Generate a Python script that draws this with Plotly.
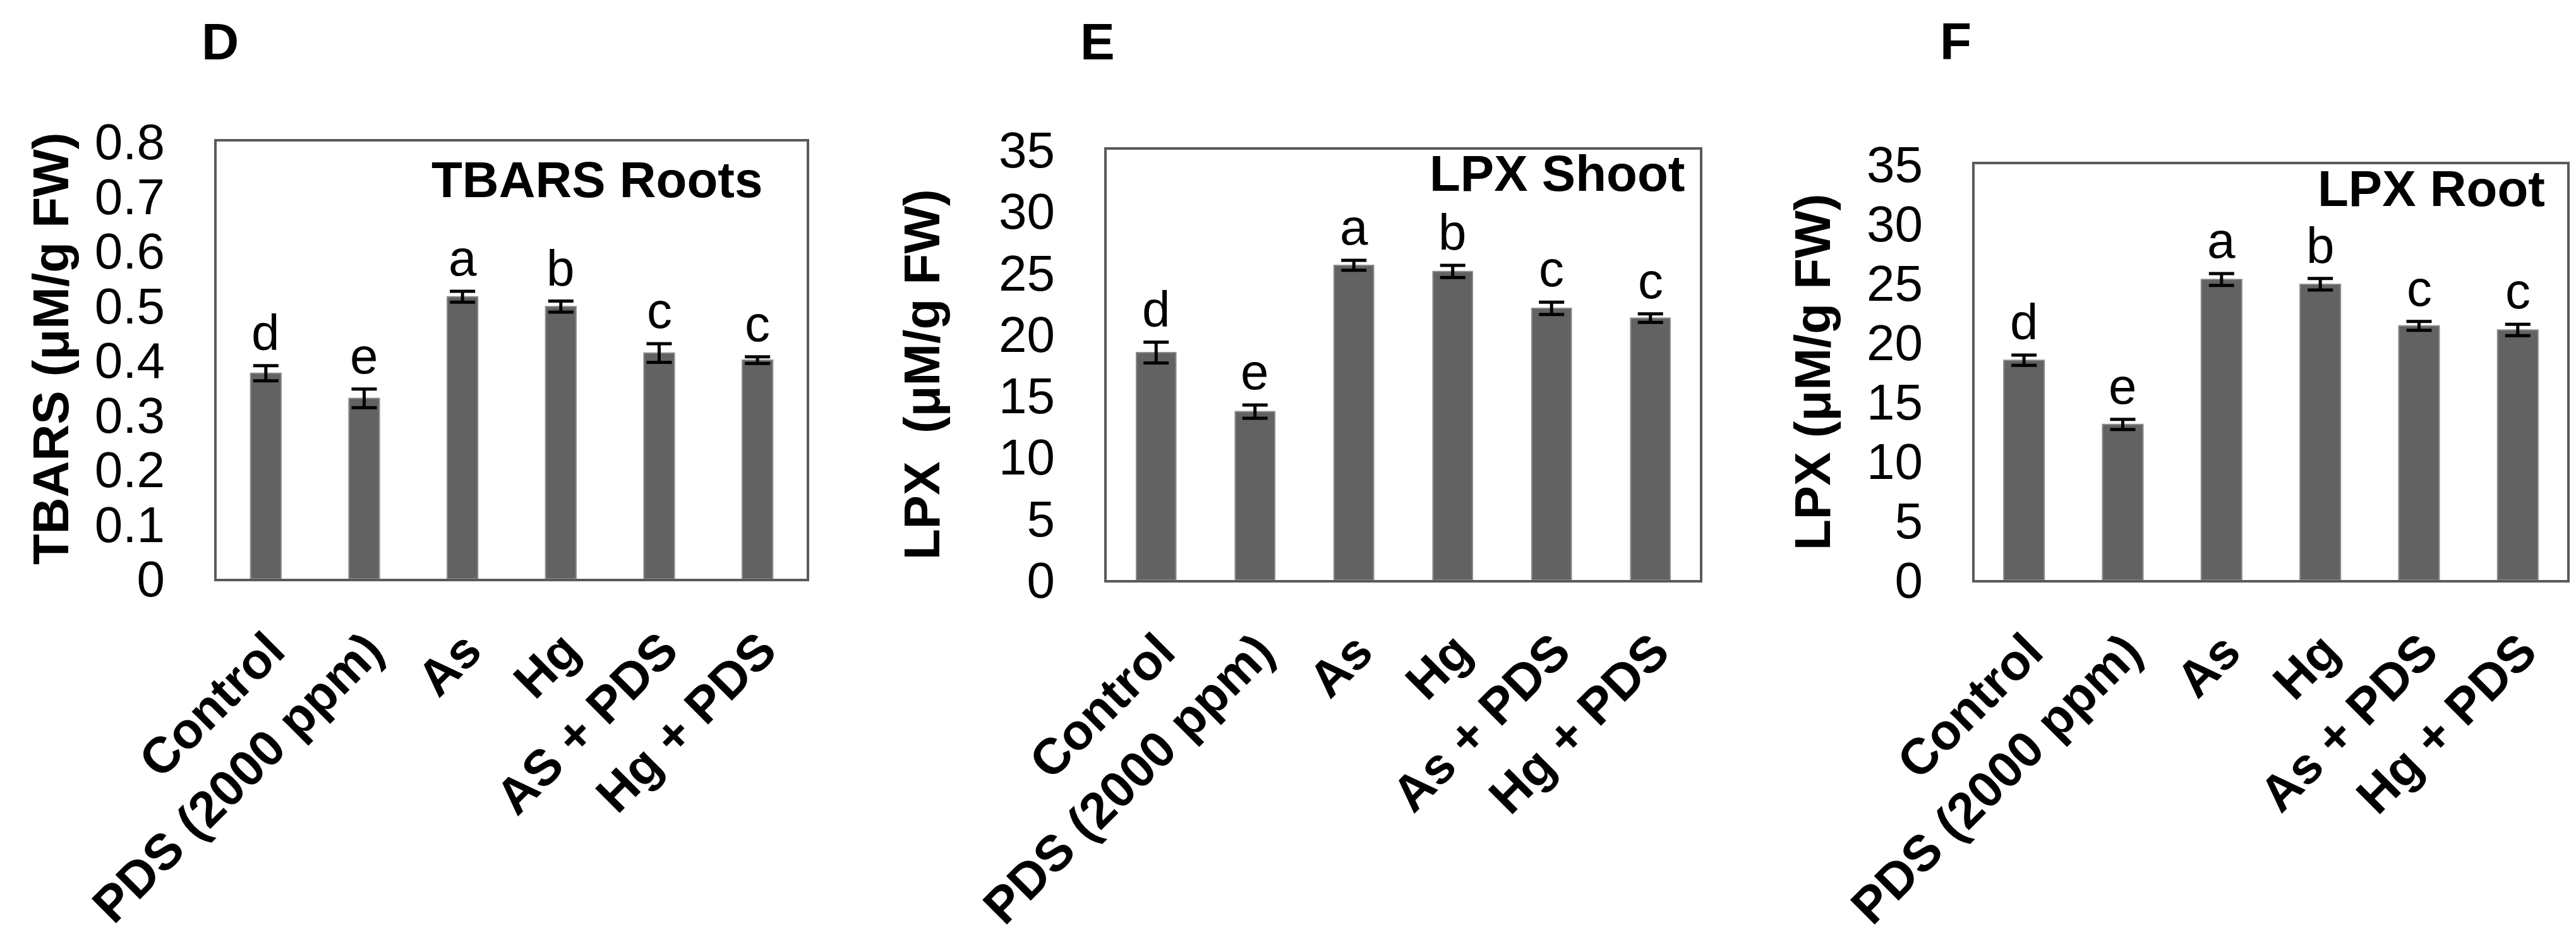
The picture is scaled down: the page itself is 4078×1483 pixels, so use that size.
import plotly.graph_objects as go

# ---------------- data ----------------
categories_D = ["Control", "PDS (2000 ppm)", "As", "Hg", "AS + PDS", "Hg + PDS"]
categories_EF = ["Control", "PDS (2000 ppm)", "As", "Hg", "As + PDS", "Hg + PDS"]

tbars_root = [0.376, 0.330, 0.516, 0.498, 0.413, 0.400]
tbars_root_err = [0.014, 0.017, 0.010, 0.010, 0.017, 0.006]

lpx_shoot = [18.5, 13.7, 25.6, 25.1, 22.1, 21.3]
lpx_shoot_err = [0.85, 0.54, 0.40, 0.50, 0.50, 0.35]

lpx_root = [18.5, 13.1, 25.3, 24.9, 21.4, 21.05]
lpx_root_err = [0.43, 0.43, 0.50, 0.48, 0.37, 0.48]

letters_D = ["d", "e", "a", "b", "c", "c"]
letters_E = ["d", "e", "a", "b", "c", "c"]
letters_F = ["d", "e", "a", "b", "c", "c"]

ticks_D = [0, 0.1, 0.2, 0.3, 0.4, 0.5, 0.6, 0.7, 0.8]
ticktext_D = ["0", "0.1", "0.2", "0.3", "0.4", "0.5", "0.6", "0.7", "0.8"]
ticks_EF = [0, 5, 10, 15, 20, 25, 30, 35]
ticktext_EF = ["0", "5", "10", "15", "20", "25", "30", "35"]

panel_labels = ["D", "E", "F"]
inner_titles = ["TBARS Roots", "LPX Shoot", "LPX Root"]
y_titles = ["TBARS (\u03bcM/g FW)", "LPX  (\u03bcM/g FW)", "LPX (\u03bcM/g FW)"]

# ---------------- layout geometry ----------------
W, H = 4078, 1483
FONT = "Liberation Sans, Arial, sans-serif"
BAR_COLOR = "#626262"
FRAME = "#5a5a5a"

panels = [
    dict(cats=categories_D, vals=tbars_root, errs=tbars_root_err, letters=letters_D,
         ticks=ticks_D, ticktext=ticktext_D, yr=[0, 0.8],
         x0=335, x1=1269, ytop=216, ybot=908, bw=0.31,
         lab=(340, 57), ytitle=(72, 544), inner=(1201, 276)),
    dict(cats=categories_EF, vals=lpx_shoot, errs=lpx_shoot_err, letters=letters_E,
         ticks=ticks_EF, ticktext=ticktext_EF, yr=[0, 35],
         x0=1744, x1=2683, ytop=229, ybot=910, bw=0.40,
         lab=(1729, 57), ytitle=(1451, 585), inner=(2661, 266)),
    dict(cats=categories_EF, vals=lpx_root, errs=lpx_root_err, letters=letters_F,
         ticks=ticks_EF, ticktext=ticktext_EF, yr=[0, 35],
         x0=3118, x1=4056, ytop=252, ybot=910, bw=0.41,
         lab=(3088, 57), ytitle=(2861, 581), inner=(4023, 290)),
]

fig = go.Figure()
annotations = []
layout_axes = {}

for i, p in enumerate(panels):
    n = "" if i == 0 else str(i + 1)
    xa, ya = "x" + n, "y" + n
    fig.add_trace(go.Bar(
        x=p["cats"], y=p["vals"], xaxis=xa, yaxis=ya,
        width=p["bw"],
        marker=dict(color=BAR_COLOR, line=dict(color="#8c8c8c", width=2)),
        error_y=dict(type="data", array=p["errs"], visible=True,
                     color="black", thickness=5, width=20),
        showlegend=False, hoverinfo="skip",
    ))
    layout_axes["xaxis" + n] = dict(
        domain=[p["x0"] / W, p["x1"] / W], anchor=ya, automargin=False,
        showline=True, mirror=True, linecolor=FRAME, linewidth=4,
        ticks="", showgrid=False, tickangle=-45,
        tickfont=dict(family=FONT, size=80, color="black", weight="bold"),
        ticklabelstandoff=30, ticklabelshift=6,
        categoryorder="array", categoryarray=p["cats"],
    )
    layout_axes["yaxis" + n] = dict(
        domain=[1 - p["ybot"] / H, 1 - p["ytop"] / H], anchor=xa, automargin=False,
        range=p["yr"], showline=True, mirror=True, linecolor=FRAME, linewidth=4,
        ticks="", showgrid=False, zeroline=False,
        tickvals=p["ticks"], ticktext=p["ticktext"],
        tickfont=dict(family=FONT, size=80, color="black"),
        ticklabelstandoff=62,
    )
    # significance letters
    for c, v, e, L in zip(p["cats"], p["vals"], p["errs"], p["letters"]):
        annotations.append(dict(
            x=c, y=v + e, xref=xa, yref=ya, text=L, showarrow=False,
            yanchor="bottom", xanchor="center", yshift=6,
            font=dict(family=FONT, size=80, color="black"),
        ))
    # panel label
    annotations.append(dict(
        x=p["lab"][0] / W, y=1 - p["lab"][1] / H, xref="paper", yref="paper",
        text=panel_labels[i], showarrow=False, xanchor="center", yanchor="middle",
        font=dict(family=FONT, size=82, color="black", weight="bold"),
    ))
    # inner title
    annotations.append(dict(
        x=p["inner"][0] / W, y=1 - p["inner"][1] / H, xref="paper", yref="paper",
        text=inner_titles[i], showarrow=False, xanchor="right", yanchor="middle",
        font=dict(family=FONT, size=80, color="black", weight="bold"),
    ))
    # y-axis title
    annotations.append(dict(
        x=p["ytitle"][0] / W, y=1 - p["ytitle"][1] / H, xref="paper", yref="paper",
        text=y_titles[i], showarrow=False, textangle=-90,
        xanchor="center", yanchor="middle",
        font=dict(family=FONT, size=80, color="black", weight="bold"),
    ))

fig.update_layout(
    width=W, height=H,
    margin=dict(l=0, r=0, t=0, b=0),
    paper_bgcolor="white", plot_bgcolor="white",
    annotations=annotations,
    **layout_axes,
)

fig.write_html("out.html")
